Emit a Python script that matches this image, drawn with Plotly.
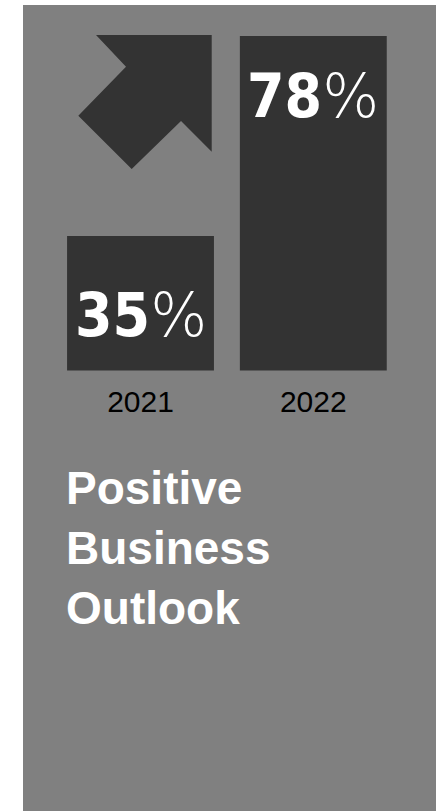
import plotly.graph_objects as go

# Share of respondents with a positive business outlook
years = ["2021", "2022"]
positive_pct = [35, 78]

W, H = 443, 811
M_L, M_R, M_T, M_B = 23, 7, 5, 0
PANEL_W = W - M_L - M_R
PANEL_H = H - M_T - M_B
PANEL_GREY = "#808080"
BAR_DARK = "#333333"


def to_paper(px, py):
    """Convert a pixel position on the page to paper coordinates."""
    return (px - M_L) / PANEL_W, (H - py) / PANEL_H


# Up-right arrow decoration (page pixels)
arrow_px = [(96, 35), (211.7, 35), (211.7, 151.7), (181, 121),
            (131.7, 169), (78.3, 115.7), (126, 66.7)]
arrow_path = "M " + " L ".join(
    "{:.4f},{:.4f}".format(*to_paper(x, y)) for x, y in arrow_px) + " Z"

fig = go.Figure()

fig.add_trace(go.Bar(
    x=years,
    y=positive_pct,
    width=0.85,
    marker=dict(color=BAR_DARK, line=dict(width=0)),
    hoverinfo="skip",
))

# Value labels inside the bars: bold number, light percent sign
label_drop = [42, 23]
for i, (v, drop) in enumerate(zip(positive_pct, label_drop)):
    fig.add_annotation(
        x=i, y=v, xref="x", yref="y",
        yanchor="top", xanchor="center", yshift=-drop,
        showarrow=False,
        text=("<b>{}</b><span style='font-family:DejaVu Sans;"
              "font-weight:200'>%</span>").format(v),
        font=dict(family="DejaVu Sans Condensed, DejaVu Sans",
                  size=60, color="white"),
    )

fig.add_annotation(
    x=to_paper(64, 0)[0], y=to_paper(0, 460)[1],
    xref="paper", yref="paper", xanchor="left", yanchor="top",
    align="left", showarrow=False,
    text="<b>Positive<br>Business<br>Outlook</b>",
    font=dict(family="Liberation Sans, Arial", size=46, color="white"),
)

fig.update_layout(
    width=W, height=H,
    margin=dict(l=M_L, r=M_R, t=M_T, b=M_B, pad=0),
    paper_bgcolor="white",
    plot_bgcolor=PANEL_GREY,
    showlegend=False,
    shapes=[
        dict(type="rect", xref="paper", yref="paper", x0=0, x1=1, y0=0, y1=1,
             fillcolor=PANEL_GREY, line=dict(width=0), layer="below"),
        dict(type="path", xref="paper", yref="paper", path=arrow_path,
             fillcolor=BAR_DARK, line=dict(width=0), layer="above"),
    ],
    xaxis=dict(
        type="category", range=[-0.68, 1.71],
        showgrid=False, zeroline=False, showline=False, ticks="",
        ticklabelstandoff=10,
        tickfont=dict(family="Liberation Sans, Arial", size=30, color="black"),
    ),
    yaxis=dict(
        domain=[0.5465, 1], range=[6.08, 84.67],
        visible=False, showgrid=False, zeroline=False,
    ),
)

fig.write_html("out.html")
